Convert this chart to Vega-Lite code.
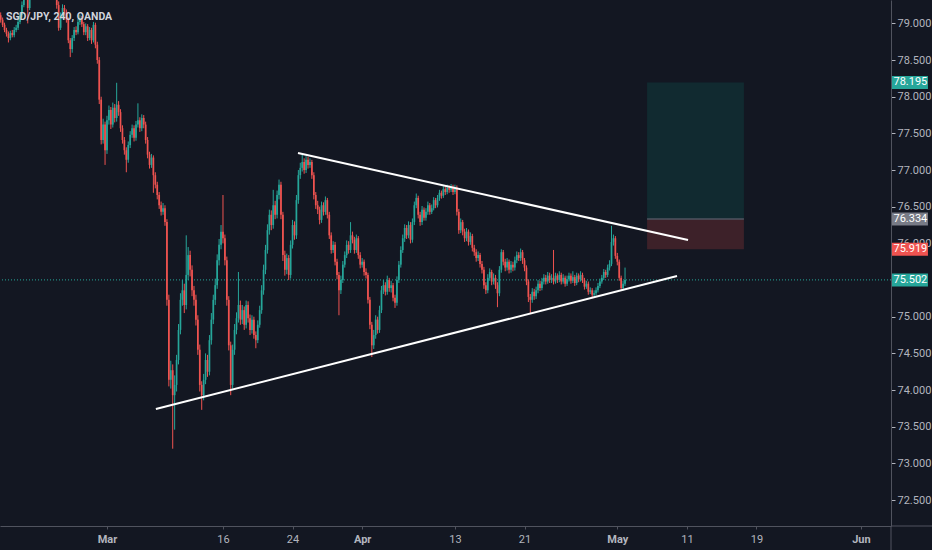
{
  "$schema": "https://vega.github.io/schema/vega-lite/v6.json",
  "width": 891,
  "height": 526,
  "autosize": {"type": "none"},
  "padding": {"left": 0, "top": 0, "right": 41, "bottom": 24},
  "background": "#131722",
  "config": {"view": {"stroke": null}, "font": "Roboto"},
  "title": {"text": "SGD/JPY, 240, OANDA", "anchor": "start", "frame": "group", "offset": -22, "dx": 6, "color": "#d1d4dc", "fontSize": 10.5, "fontWeight": "bold", "font": "Roboto"},
  "datasets": {
    "bars": [
      {"i":-55,"o":79.11,"h":79.15,"l":79.01,"c":79.05},
      {"i":-54,"o":79.05,"h":79.08,"l":78.95,"c":78.98},
      {"i":-53,"o":78.98,"h":79.01,"l":78.88,"c":78.91},
      {"i":-52,"o":78.91,"h":78.94,"l":78.82,"c":78.86},
      {"i":-51,"o":78.86,"h":78.89,"l":78.74,"c":78.80},
      {"i":-50,"o":78.80,"h":78.90,"l":78.77,"c":78.87},
      {"i":-49,"o":78.87,"h":78.91,"l":78.81,"c":78.84},
      {"i":-48,"o":78.84,"h":78.95,"l":78.81,"c":78.91},
      {"i":-47,"o":78.91,"h":78.98,"l":78.88,"c":78.94},
      {"i":-46,"o":78.94,"h":79.06,"l":78.91,"c":79.02},
      {"i":-45,"o":79.02,"h":79.15,"l":78.99,"c":79.11},
      {"i":-44,"o":79.11,"h":79.30,"l":79.08,"c":79.25},
      {"i":-43,"o":79.25,"h":79.52,"l":79.22,"c":79.46},
      {"i":-42,"o":79.46,"h":79.58,"l":79.42,"c":79.52},
      {"i":-41,"o":79.52,"h":79.55,"l":79.00,"c":79.21},
      {"i":-40,"o":79.21,"h":79.53,"l":79.18,"c":79.48},
      {"i":-39,"o":79.48,"h":79.64,"l":79.45,"c":79.59},
      {"i":-38,"o":79.59,"h":79.71,"l":79.55,"c":79.66},
      {"i":-37,"o":79.66,"h":79.78,"l":79.62,"c":79.73},
      {"i":-36,"o":79.73,"h":79.76,"l":79.58,"c":79.62},
      {"i":-35,"o":79.62,"h":79.75,"l":79.58,"c":79.70},
      {"i":-34,"o":79.70,"h":79.85,"l":79.67,"c":79.80},
      {"i":-33,"o":79.80,"h":79.83,"l":79.69,"c":79.73},
      {"i":-32,"o":79.73,"h":79.76,"l":79.63,"c":79.67},
      {"i":-31,"o":79.67,"h":79.70,"l":79.55,"c":79.59},
      {"i":-30,"o":79.59,"h":79.63,"l":79.48,"c":79.52},
      {"i":-29,"o":79.52,"h":79.60,"l":79.45,"c":79.56},
      {"i":-28,"o":79.56,"h":79.59,"l":79.42,"c":79.46},
      {"i":-27,"o":79.46,"h":79.50,"l":79.35,"c":79.39},
      {"i":-26,"o":79.39,"h":79.42,"l":79.20,"c":79.25},
      {"i":-25,"o":79.25,"h":79.30,"l":78.90,"c":78.94},
      {"i":-24,"o":78.94,"h":79.15,"l":78.91,"c":79.11},
      {"i":-23,"o":79.11,"h":79.26,"l":79.08,"c":79.21},
      {"i":-22,"o":79.21,"h":79.25,"l":79.12,"c":79.16},
      {"i":-21,"o":79.16,"h":79.19,"l":79.01,"c":79.05},
      {"i":-20,"o":79.05,"h":79.08,"l":78.73,"c":78.77},
      {"i":-19,"o":78.77,"h":78.80,"l":78.54,"c":78.65},
      {"i":-18,"o":78.65,"h":78.84,"l":78.60,"c":78.80},
      {"i":-17,"o":78.80,"h":78.95,"l":78.76,"c":78.91},
      {"i":-16,"o":78.91,"h":78.96,"l":78.84,"c":78.88},
      {"i":-15,"o":78.88,"h":79.06,"l":78.85,"c":79.02},
      {"i":-14,"o":79.02,"h":79.12,"l":78.98,"c":79.07},
      {"i":-13,"o":79.07,"h":79.10,"l":78.95,"c":78.99},
      {"i":-12,"o":78.99,"h":79.02,"l":78.84,"c":78.88},
      {"i":-11,"o":78.88,"h":79.00,"l":78.84,"c":78.96},
      {"i":-10,"o":78.96,"h":78.99,"l":78.76,"c":78.80},
      {"i":-9,"o":78.80,"h":78.95,"l":78.77,"c":78.91},
      {"i":-8,"o":78.91,"h":78.94,"l":78.72,"c":78.77},
      {"i":-7,"o":78.77,"h":79.02,"l":78.74,"c":78.98},
      {"i":-6,"o":78.98,"h":79.01,"l":78.66,"c":78.71},
      {"i":-5,"o":78.71,"h":78.75,"l":78.45,"c":78.50},
      {"i":-4,"o":78.50,"h":78.54,"l":77.90,"c":77.96},
      {"i":-3,"o":77.96,"h":78.00,"l":77.35,"c":77.41},
      {"i":-2,"o":77.41,"h":77.70,"l":77.36,"c":77.62},
      {"i":-1,"o":77.62,"h":77.66,"l":77.07,"c":77.27},
      {"i":0,"o":77.27,"h":77.74,"l":77.22,"c":77.68},
      {"i":1,"o":77.68,"h":77.88,"l":77.62,"c":77.82},
      {"i":2,"o":77.82,"h":77.86,"l":77.56,"c":77.62},
      {"i":3,"o":77.62,"h":77.92,"l":77.58,"c":77.85},
      {"i":4,"o":77.85,"h":77.90,"l":77.65,"c":77.71},
      {"i":5,"o":77.71,"h":78.19,"l":77.66,"c":77.89},
      {"i":6,"o":77.89,"h":77.94,"l":77.74,"c":77.79},
      {"i":7,"o":77.79,"h":77.83,"l":77.52,"c":77.57},
      {"i":8,"o":77.57,"h":77.61,"l":77.36,"c":77.41},
      {"i":9,"o":77.41,"h":77.45,"l":77.21,"c":77.27},
      {"i":10,"o":77.27,"h":77.31,"l":76.97,"c":77.14},
      {"i":11,"o":77.14,"h":77.39,"l":77.10,"c":77.34},
      {"i":12,"o":77.34,"h":77.53,"l":77.30,"c":77.48},
      {"i":13,"o":77.48,"h":77.62,"l":77.44,"c":77.57},
      {"i":14,"o":77.57,"h":77.61,"l":77.39,"c":77.44},
      {"i":15,"o":77.44,"h":77.67,"l":77.40,"c":77.62},
      {"i":16,"o":77.62,"h":77.91,"l":77.58,"c":77.68},
      {"i":17,"o":77.68,"h":77.72,"l":77.52,"c":77.57},
      {"i":18,"o":77.57,"h":77.76,"l":77.53,"c":77.71},
      {"i":19,"o":77.71,"h":77.75,"l":77.57,"c":77.62},
      {"i":20,"o":77.62,"h":77.66,"l":77.36,"c":77.41},
      {"i":21,"o":77.41,"h":77.45,"l":77.16,"c":77.21},
      {"i":22,"o":77.21,"h":77.25,"l":77.02,"c":77.07},
      {"i":23,"o":77.07,"h":77.22,"l":77.03,"c":77.17},
      {"i":24,"o":77.17,"h":77.20,"l":76.69,"c":76.93},
      {"i":25,"o":76.93,"h":76.97,"l":76.75,"c":76.80},
      {"i":26,"o":76.80,"h":76.84,"l":76.60,"c":76.66},
      {"i":27,"o":76.66,"h":76.70,"l":76.47,"c":76.52},
      {"i":28,"o":76.52,"h":76.57,"l":76.38,"c":76.43},
      {"i":29,"o":76.43,"h":76.55,"l":76.39,"c":76.48},
      {"i":30,"o":76.48,"h":76.52,"l":76.24,"c":76.29},
      {"i":31,"o":76.29,"h":76.33,"l":75.15,"c":75.23},
      {"i":32,"o":75.23,"h":75.30,"l":74.05,"c":74.14},
      {"i":33,"o":74.14,"h":74.40,"l":74.02,"c":74.27},
      {"i":34,"o":74.27,"h":74.35,"l":73.20,"c":73.93},
      {"i":35,"o":73.93,"h":74.20,"l":73.46,"c":74.07},
      {"i":36,"o":74.07,"h":74.48,"l":73.98,"c":74.41},
      {"i":37,"o":74.41,"h":74.90,"l":74.35,"c":74.82},
      {"i":38,"o":74.82,"h":75.32,"l":74.76,"c":75.23},
      {"i":39,"o":75.23,"h":75.50,"l":75.15,"c":75.36},
      {"i":40,"o":75.36,"h":75.45,"l":75.05,"c":75.16},
      {"i":41,"o":75.16,"h":76.11,"l":75.10,"c":75.57},
      {"i":42,"o":75.57,"h":75.95,"l":75.50,"c":75.84},
      {"i":43,"o":75.84,"h":75.90,"l":75.55,"c":75.64},
      {"i":44,"o":75.64,"h":75.70,"l":75.28,"c":75.36},
      {"i":45,"o":75.36,"h":75.42,"l":75.15,"c":75.23},
      {"i":46,"o":75.23,"h":75.30,"l":74.88,"c":74.96},
      {"i":47,"o":74.96,"h":75.02,"l":74.48,"c":74.55},
      {"i":48,"o":74.55,"h":74.62,"l":73.98,"c":74.07},
      {"i":49,"o":74.07,"h":74.12,"l":73.73,"c":73.93},
      {"i":50,"o":73.93,"h":74.22,"l":73.86,"c":74.14},
      {"i":51,"o":74.14,"h":74.50,"l":74.08,"c":74.41},
      {"i":52,"o":74.41,"h":74.48,"l":74.18,"c":74.25},
      {"i":53,"o":74.25,"h":74.75,"l":74.20,"c":74.68},
      {"i":54,"o":74.68,"h":75.05,"l":74.62,"c":74.96},
      {"i":55,"o":74.96,"h":75.30,"l":74.90,"c":75.23},
      {"i":56,"o":75.23,"h":75.52,"l":75.16,"c":75.43},
      {"i":57,"o":75.43,"h":75.85,"l":75.38,"c":75.77},
      {"i":58,"o":75.77,"h":76.06,"l":75.70,"c":75.98},
      {"i":59,"o":75.98,"h":76.25,"l":75.92,"c":76.16},
      {"i":60,"o":76.16,"h":76.66,"l":76.00,"c":76.07},
      {"i":61,"o":76.07,"h":76.12,"l":75.70,"c":75.77},
      {"i":62,"o":75.77,"h":75.82,"l":75.15,"c":75.23},
      {"i":63,"o":75.23,"h":75.28,"l":74.54,"c":74.61},
      {"i":64,"o":74.61,"h":74.66,"l":73.93,"c":74.07},
      {"i":65,"o":74.07,"h":74.62,"l":74.02,"c":74.55},
      {"i":66,"o":74.55,"h":74.90,"l":74.48,"c":74.82},
      {"i":67,"o":74.82,"h":75.06,"l":74.76,"c":74.98},
      {"i":68,"o":74.98,"h":75.61,"l":74.92,"c":75.16},
      {"i":69,"o":75.16,"h":75.22,"l":74.89,"c":74.96},
      {"i":70,"o":74.96,"h":75.16,"l":74.90,"c":75.09},
      {"i":71,"o":75.09,"h":75.14,"l":74.82,"c":74.89},
      {"i":72,"o":74.89,"h":75.22,"l":74.84,"c":75.16},
      {"i":73,"o":75.16,"h":75.21,"l":74.92,"c":74.98},
      {"i":74,"o":74.98,"h":75.03,"l":74.75,"c":74.82},
      {"i":75,"o":74.82,"h":75.02,"l":74.77,"c":74.96},
      {"i":76,"o":74.96,"h":75.00,"l":74.70,"c":74.75},
      {"i":77,"o":74.75,"h":74.80,"l":74.57,"c":74.68},
      {"i":78,"o":74.68,"h":74.95,"l":74.64,"c":74.89},
      {"i":79,"o":74.89,"h":75.15,"l":74.85,"c":75.09},
      {"i":80,"o":75.09,"h":75.43,"l":75.04,"c":75.36},
      {"i":81,"o":75.36,"h":75.71,"l":75.30,"c":75.64},
      {"i":82,"o":75.64,"h":75.98,"l":75.58,"c":75.91},
      {"i":83,"o":75.91,"h":76.26,"l":75.86,"c":76.18},
      {"i":84,"o":76.18,"h":76.46,"l":76.12,"c":76.39},
      {"i":85,"o":76.39,"h":76.45,"l":76.18,"c":76.25},
      {"i":86,"o":76.25,"h":76.73,"l":76.20,"c":76.52},
      {"i":87,"o":76.52,"h":76.58,"l":76.33,"c":76.39},
      {"i":88,"o":76.39,"h":76.72,"l":76.34,"c":76.66},
      {"i":89,"o":76.66,"h":76.87,"l":76.60,"c":76.80},
      {"i":90,"o":76.80,"h":76.84,"l":76.33,"c":76.39},
      {"i":91,"o":76.39,"h":76.43,"l":75.76,"c":75.84},
      {"i":92,"o":75.84,"h":75.90,"l":75.56,"c":75.64},
      {"i":93,"o":75.64,"h":75.86,"l":75.58,"c":75.80},
      {"i":94,"o":75.80,"h":75.84,"l":75.50,"c":75.57},
      {"i":95,"o":75.57,"h":76.04,"l":75.52,"c":75.98},
      {"i":96,"o":75.98,"h":76.32,"l":75.93,"c":76.25},
      {"i":97,"o":76.25,"h":76.30,"l":76.05,"c":76.11},
      {"i":98,"o":76.11,"h":76.66,"l":76.06,"c":76.59},
      {"i":99,"o":76.59,"h":77.00,"l":76.54,"c":76.93},
      {"i":100,"o":76.93,"h":77.10,"l":76.88,"c":77.03},
      {"i":101,"o":77.03,"h":77.21,"l":76.98,"c":77.11},
      {"i":102,"o":77.11,"h":77.16,"l":76.95,"c":77.00},
      {"i":103,"o":77.00,"h":77.19,"l":76.96,"c":77.14},
      {"i":104,"o":77.14,"h":77.18,"l":77.02,"c":77.07},
      {"i":105,"o":77.07,"h":77.16,"l":77.03,"c":77.11},
      {"i":106,"o":77.11,"h":77.14,"l":76.88,"c":76.93},
      {"i":107,"o":76.93,"h":76.97,"l":76.60,"c":76.66},
      {"i":108,"o":76.66,"h":76.70,"l":76.47,"c":76.52},
      {"i":109,"o":76.52,"h":76.58,"l":76.40,"c":76.46},
      {"i":110,"o":76.46,"h":76.50,"l":76.26,"c":76.32},
      {"i":111,"o":76.32,"h":76.57,"l":76.28,"c":76.52},
      {"i":112,"o":76.52,"h":76.56,"l":76.38,"c":76.43},
      {"i":113,"o":76.43,"h":76.64,"l":76.39,"c":76.59},
      {"i":114,"o":76.59,"h":76.62,"l":76.34,"c":76.39},
      {"i":115,"o":76.39,"h":76.43,"l":76.06,"c":76.11},
      {"i":116,"o":76.11,"h":76.15,"l":75.86,"c":75.91},
      {"i":117,"o":75.91,"h":76.03,"l":75.87,"c":75.98},
      {"i":118,"o":75.98,"h":76.02,"l":75.70,"c":75.75},
      {"i":119,"o":75.75,"h":75.79,"l":75.51,"c":75.57},
      {"i":120,"o":75.57,"h":75.61,"l":75.02,"c":75.36},
      {"i":121,"o":75.36,"h":75.56,"l":75.31,"c":75.50},
      {"i":122,"o":75.50,"h":75.76,"l":75.46,"c":75.71},
      {"i":123,"o":75.71,"h":75.89,"l":75.67,"c":75.84},
      {"i":124,"o":75.84,"h":76.04,"l":75.80,"c":75.98},
      {"i":125,"o":75.98,"h":76.03,"l":75.86,"c":75.91},
      {"i":126,"o":75.91,"h":76.29,"l":75.87,"c":76.11},
      {"i":127,"o":76.11,"h":76.16,"l":76.00,"c":76.05},
      {"i":128,"o":76.05,"h":76.09,"l":75.86,"c":75.91},
      {"i":129,"o":75.91,"h":76.12,"l":75.87,"c":76.07},
      {"i":130,"o":76.07,"h":76.10,"l":75.79,"c":75.84},
      {"i":131,"o":75.84,"h":75.88,"l":75.66,"c":75.71},
      {"i":132,"o":75.71,"h":75.80,"l":75.67,"c":75.75},
      {"i":133,"o":75.75,"h":75.78,"l":75.56,"c":75.61},
      {"i":134,"o":75.61,"h":75.66,"l":75.52,"c":75.57},
      {"i":135,"o":75.57,"h":75.60,"l":75.18,"c":75.23},
      {"i":136,"o":75.23,"h":75.27,"l":74.83,"c":74.89},
      {"i":137,"o":74.89,"h":74.93,"l":74.45,"c":74.61},
      {"i":138,"o":74.61,"h":74.82,"l":74.56,"c":74.75},
      {"i":139,"o":74.75,"h":75.02,"l":74.70,"c":74.96},
      {"i":140,"o":74.96,"h":75.00,"l":74.77,"c":74.82},
      {"i":141,"o":74.82,"h":75.15,"l":74.78,"c":75.09},
      {"i":142,"o":75.09,"h":75.42,"l":75.05,"c":75.36},
      {"i":143,"o":75.36,"h":75.50,"l":75.31,"c":75.43},
      {"i":144,"o":75.43,"h":75.47,"l":75.29,"c":75.34},
      {"i":145,"o":75.34,"h":75.56,"l":75.30,"c":75.50},
      {"i":146,"o":75.50,"h":75.53,"l":75.34,"c":75.39},
      {"i":147,"o":75.39,"h":75.49,"l":75.33,"c":75.43},
      {"i":148,"o":75.43,"h":75.46,"l":75.21,"c":75.26},
      {"i":149,"o":75.26,"h":75.30,"l":75.12,"c":75.19},
      {"i":150,"o":75.19,"h":75.55,"l":75.15,"c":75.50},
      {"i":151,"o":75.50,"h":75.76,"l":75.46,"c":75.71},
      {"i":152,"o":75.71,"h":75.96,"l":75.67,"c":75.91},
      {"i":153,"o":75.91,"h":76.12,"l":75.87,"c":76.07},
      {"i":154,"o":76.07,"h":76.26,"l":76.02,"c":76.21},
      {"i":155,"o":76.21,"h":76.25,"l":76.06,"c":76.11},
      {"i":156,"o":76.11,"h":76.30,"l":76.07,"c":76.25},
      {"i":157,"o":76.25,"h":76.29,"l":76.00,"c":76.05},
      {"i":158,"o":76.05,"h":76.34,"l":76.01,"c":76.29},
      {"i":159,"o":76.29,"h":76.57,"l":76.25,"c":76.52},
      {"i":160,"o":76.52,"h":76.68,"l":76.48,"c":76.62},
      {"i":161,"o":76.62,"h":76.65,"l":76.34,"c":76.39},
      {"i":162,"o":76.39,"h":76.43,"l":76.24,"c":76.29},
      {"i":163,"o":76.29,"h":76.51,"l":76.25,"c":76.46},
      {"i":164,"o":76.46,"h":76.49,"l":76.31,"c":76.35},
      {"i":165,"o":76.35,"h":76.48,"l":76.31,"c":76.43},
      {"i":166,"o":76.43,"h":76.57,"l":76.39,"c":76.52},
      {"i":167,"o":76.52,"h":76.55,"l":76.39,"c":76.43},
      {"i":168,"o":76.43,"h":76.53,"l":76.40,"c":76.48},
      {"i":169,"o":76.48,"h":76.63,"l":76.45,"c":76.59},
      {"i":170,"o":76.59,"h":76.62,"l":76.48,"c":76.52},
      {"i":171,"o":76.52,"h":76.66,"l":76.49,"c":76.62},
      {"i":172,"o":76.62,"h":76.73,"l":76.58,"c":76.69},
      {"i":173,"o":76.69,"h":76.72,"l":76.61,"c":76.65},
      {"i":174,"o":76.65,"h":76.78,"l":76.62,"c":76.74},
      {"i":175,"o":76.74,"h":76.78,"l":76.66,"c":76.70},
      {"i":176,"o":76.70,"h":76.80,"l":76.67,"c":76.76},
      {"i":177,"o":76.76,"h":76.79,"l":76.69,"c":76.73},
      {"i":178,"o":76.73,"h":76.81,"l":76.70,"c":76.77},
      {"i":179,"o":76.77,"h":76.80,"l":76.66,"c":76.70},
      {"i":180,"o":76.70,"h":76.80,"l":76.67,"c":76.76},
      {"i":181,"o":76.76,"h":76.79,"l":76.38,"c":76.43},
      {"i":182,"o":76.43,"h":76.47,"l":76.13,"c":76.18},
      {"i":183,"o":76.18,"h":76.34,"l":76.14,"c":76.29},
      {"i":184,"o":76.29,"h":76.32,"l":76.11,"c":76.16},
      {"i":185,"o":76.16,"h":76.20,"l":76.02,"c":76.07},
      {"i":186,"o":76.07,"h":76.21,"l":76.03,"c":76.16},
      {"i":187,"o":76.16,"h":76.19,"l":75.97,"c":76.02},
      {"i":188,"o":76.02,"h":76.15,"l":75.98,"c":76.10},
      {"i":189,"o":76.10,"h":76.13,"l":75.89,"c":75.94},
      {"i":190,"o":75.94,"h":75.98,"l":75.83,"c":75.88},
      {"i":191,"o":75.88,"h":75.92,"l":75.75,"c":75.80},
      {"i":192,"o":75.80,"h":75.89,"l":75.76,"c":75.84},
      {"i":193,"o":75.84,"h":75.87,"l":75.67,"c":75.72},
      {"i":194,"o":75.72,"h":75.76,"l":75.59,"c":75.64},
      {"i":195,"o":75.64,"h":75.68,"l":75.38,"c":75.43},
      {"i":196,"o":75.43,"h":75.47,"l":75.31,"c":75.36},
      {"i":197,"o":75.36,"h":75.58,"l":75.32,"c":75.53},
      {"i":198,"o":75.53,"h":75.66,"l":75.49,"c":75.61},
      {"i":199,"o":75.61,"h":75.64,"l":75.43,"c":75.48},
      {"i":200,"o":75.48,"h":75.59,"l":75.44,"c":75.53},
      {"i":201,"o":75.53,"h":75.57,"l":75.38,"c":75.43},
      {"i":202,"o":75.43,"h":75.47,"l":75.13,"c":75.32},
      {"i":203,"o":75.32,"h":75.69,"l":75.28,"c":75.64},
      {"i":204,"o":75.64,"h":75.92,"l":75.60,"c":75.88},
      {"i":205,"o":75.88,"h":75.91,"l":75.70,"c":75.75},
      {"i":206,"o":75.75,"h":75.79,"l":75.62,"c":75.67},
      {"i":207,"o":75.67,"h":75.80,"l":75.63,"c":75.75},
      {"i":208,"o":75.75,"h":75.78,"l":75.59,"c":75.64},
      {"i":209,"o":75.64,"h":75.76,"l":75.60,"c":75.71},
      {"i":210,"o":75.71,"h":75.75,"l":75.62,"c":75.67},
      {"i":211,"o":75.67,"h":75.82,"l":75.63,"c":75.77},
      {"i":212,"o":75.77,"h":75.89,"l":75.73,"c":75.84},
      {"i":213,"o":75.84,"h":75.88,"l":75.76,"c":75.80},
      {"i":214,"o":75.80,"h":75.93,"l":75.76,"c":75.88},
      {"i":215,"o":75.88,"h":75.91,"l":75.72,"c":75.77},
      {"i":216,"o":75.77,"h":75.80,"l":75.62,"c":75.67},
      {"i":217,"o":75.67,"h":75.70,"l":75.43,"c":75.48},
      {"i":218,"o":75.48,"h":75.51,"l":75.20,"c":75.27},
      {"i":219,"o":75.27,"h":75.31,"l":75.05,"c":75.23},
      {"i":220,"o":75.23,"h":75.39,"l":75.19,"c":75.34},
      {"i":221,"o":75.34,"h":75.38,"l":75.23,"c":75.28},
      {"i":222,"o":75.28,"h":75.41,"l":75.24,"c":75.36},
      {"i":223,"o":75.36,"h":75.50,"l":75.32,"c":75.45},
      {"i":224,"o":75.45,"h":75.49,"l":75.35,"c":75.39},
      {"i":225,"o":75.39,"h":75.53,"l":75.36,"c":75.48},
      {"i":226,"o":75.48,"h":75.58,"l":75.44,"c":75.53},
      {"i":227,"o":75.53,"h":75.57,"l":75.44,"c":75.48},
      {"i":228,"o":75.48,"h":75.61,"l":75.45,"c":75.56},
      {"i":229,"o":75.56,"h":75.60,"l":75.46,"c":75.50},
      {"i":230,"o":75.50,"h":75.58,"l":75.46,"c":75.53},
      {"i":231,"o":75.53,"h":75.91,"l":75.44,"c":75.48},
      {"i":232,"o":75.48,"h":75.60,"l":75.45,"c":75.56},
      {"i":233,"o":75.56,"h":75.59,"l":75.46,"c":75.50},
      {"i":234,"o":75.50,"h":75.62,"l":75.47,"c":75.57},
      {"i":235,"o":75.57,"h":75.60,"l":75.44,"c":75.48},
      {"i":236,"o":75.48,"h":75.58,"l":75.45,"c":75.53},
      {"i":237,"o":75.53,"h":75.56,"l":75.41,"c":75.45},
      {"i":238,"o":75.45,"h":75.56,"l":75.42,"c":75.51},
      {"i":239,"o":75.51,"h":75.60,"l":75.48,"c":75.56},
      {"i":240,"o":75.56,"h":75.59,"l":75.45,"c":75.49},
      {"i":241,"o":75.49,"h":75.62,"l":75.46,"c":75.54},
      {"i":242,"o":75.54,"h":75.57,"l":75.42,"c":75.46},
      {"i":243,"o":75.46,"h":75.60,"l":75.43,"c":75.56},
      {"i":244,"o":75.56,"h":75.59,"l":75.47,"c":75.51},
      {"i":245,"o":75.51,"h":75.62,"l":75.48,"c":75.57},
      {"i":246,"o":75.57,"h":75.60,"l":75.46,"c":75.50},
      {"i":247,"o":75.50,"h":75.53,"l":75.37,"c":75.41},
      {"i":248,"o":75.41,"h":75.49,"l":75.38,"c":75.45},
      {"i":249,"o":75.45,"h":75.48,"l":75.30,"c":75.34},
      {"i":250,"o":75.34,"h":75.40,"l":75.31,"c":75.36},
      {"i":251,"o":75.36,"h":75.39,"l":75.26,"c":75.30},
      {"i":252,"o":75.30,"h":75.36,"l":75.27,"c":75.32},
      {"i":253,"o":75.32,"h":75.40,"l":75.29,"c":75.36},
      {"i":254,"o":75.36,"h":75.46,"l":75.33,"c":75.42},
      {"i":255,"o":75.42,"h":75.52,"l":75.39,"c":75.48},
      {"i":256,"o":75.48,"h":75.57,"l":75.45,"c":75.53},
      {"i":257,"o":75.53,"h":75.65,"l":75.50,"c":75.61},
      {"i":258,"o":75.61,"h":75.64,"l":75.53,"c":75.57},
      {"i":259,"o":75.57,"h":75.71,"l":75.54,"c":75.67},
      {"i":260,"o":75.67,"h":75.77,"l":75.63,"c":75.72},
      {"i":261,"o":75.72,"h":76.24,"l":75.69,"c":76.02},
      {"i":262,"o":76.02,"h":76.12,"l":75.97,"c":76.07},
      {"i":263,"o":76.07,"h":76.10,"l":75.79,"c":75.83},
      {"i":264,"o":75.83,"h":75.87,"l":75.70,"c":75.75},
      {"i":265,"o":75.75,"h":75.78,"l":75.49,"c":75.53},
      {"i":266,"o":75.53,"h":75.56,"l":75.36,"c":75.39},
      {"i":267,"o":75.39,"h":75.49,"l":75.36,"c":75.45},
      {"i":268,"o":75.45,"h":75.67,"l":75.42,"c":75.50}
    ],
    "trend": [
      {"x1": 98.8, "y1": 77.232, "x2": 300.6, "y2": 76.046},
      {"x1": 25.3, "y1": 73.741, "x2": 294.9, "y2": 75.555}
    ],
    "position": [
      {"a": 279.4, "b": 329.5, "lo": 76.334, "hi": 78.195, "k": "target"},
      {"a": 279.4, "b": 329.5, "lo": 75.919, "hi": 76.334, "k": "stop"}
    ],
    "tags": [
      {"p": 78.195, "k": "target"},
      {"p": 76.334, "k": "entry"},
      {"p": 75.919, "k": "stop"},
      {"p": 75.502, "k": "last"}
    ]
  },
  "layer": [
    {
      "data": {"name": "position"},
      "mark": {"type": "rect"},
      "encoding": {
        "x": {"field": "a", "type": "quantitative", "title": null, "scale": {"domain": [-55.35, 405.59], "nice": false, "zero": false, "padding": 0},
          "axis": {"values": [0, 60, 96, 132, 180, 216, 264, 300, 336, 390], "title": null, "grid": false,
            "labelExpr": "datum.value==0?'Mar':datum.value==60?'16':datum.value==96?'24':datum.value==132?'Apr':datum.value==180?'13':datum.value==216?'21':datum.value==264?'May':datum.value==300?'11':datum.value==336?'19':'Jun'",
            "labelFontWeight": {"condition": {"test": "datum.value==0||datum.value==132||datum.value==264||datum.value==390", "value": "bold"}, "value": "normal"},
            "labelOverlap": false, "labelFlush": false, "domainColor": "#50535e", "tickColor": "#50535e", "tickSize": 3,
            "labelColor": "#b2b5be", "labelFontSize": 11, "labelPadding": 4, "labelFont": "Roboto"}},
        "x2": {"field": "b"},
        "y": {"field": "lo", "type": "quantitative", "title": null, "scale": {"domain": [72.146, 79.319], "nice": false, "zero": false, "padding": 0},
          "axis": {"orient": "right", "values": [72.5, 73, 73.5, 74, 74.5, 75, 76, 76.5, 77, 77.5, 78, 78.5, 79], "format": ".3f", "title": null, "grid": false,
            "domainColor": "#50535e", "tickColor": "#b2b5be", "tickSize": 4, "labelColor": "#b2b5be", "labelFontSize": 11, "labelPadding": 2, "labelFont": "Roboto", "labelOverlap": false, "labelFlush": false}},
        "y2": {"field": "hi"},
        "fill": {"field": "k", "type": "nominal", "scale": {"domain": ["target", "stop"], "range": ["#112a30", "#3d2129"]}, "legend": null}
      }
    },
    {
      "data": {"values": [{"a": 279.4, "b": 329.5, "p": 76.334}]},
      "mark": {"type": "rule", "color": "#4f5560", "strokeWidth": 1.5},
      "encoding": {
        "x": {"field": "a", "type": "quantitative", "title": null},
        "x2": {"field": "b"},
        "y": {"field": "p", "type": "quantitative", "title": null}
      }
    },
    {
      "data": {"values": [{"p": 75.502}]},
      "mark": {"type": "rule", "color": "#26a69a", "strokeWidth": 1, "strokeDash": [1, 2]},
      "encoding": {
        "y": {"field": "p", "type": "quantitative", "title": null}
      }
    },
    {
      "data": {"values": [{}]},
      "mark": {"type": "rule", "color": "#50535e", "strokeWidth": 1},
      "encoding": {
        "x": {"datum": 405.59, "type": "quantitative"},
        "x2": {"datum": 428},
        "y": {"datum": 72.146, "type": "quantitative"}
      }
    },
    {
      "data": {"values": [{}]},
      "mark": {"type": "rule", "color": "#50535e", "strokeWidth": 1},
      "encoding": {
        "x": {"datum": 405.59, "type": "quantitative"},
        "y": {"datum": 72.146, "type": "quantitative"},
        "y2": {"datum": 71.80}
      }
    },
    {
      "data": {"name": "bars"},
      "mark": {"type": "rule", "strokeWidth": 1, "clip": true},
      "encoding": {
        "x": {"field": "i", "type": "quantitative", "title": null},
        "y": {"field": "l", "type": "quantitative", "title": null},
        "y2": {"field": "h"},
        "color": {"condition": {"test": "datum.c >= datum.o", "value": "#26a69a"}, "value": "#ef5350"}
      }
    },
    {
      "data": {"name": "bars"},
      "mark": {"type": "bar", "size": 1.7, "clip": true},
      "encoding": {
        "x": {"field": "i", "type": "quantitative", "title": null},
        "y": {"field": "o", "type": "quantitative", "title": null},
        "y2": {"field": "c"},
        "color": {"condition": {"test": "datum.c >= datum.o", "value": "#26a69a"}, "value": "#ef5350"}
      }
    },
    {
      "data": {"name": "trend"},
      "mark": {"type": "rule", "color": "#ffffff", "strokeWidth": 2},
      "encoding": {
        "x": {"field": "x1", "type": "quantitative", "title": null},
        "x2": {"field": "x2"},
        "y": {"field": "y1", "type": "quantitative", "title": null},
        "y2": {"field": "y2"}
      }
    },
    {
      "data": {"name": "tags"},
      "mark": {"type": "tick", "orient": "horizontal", "thickness": 13, "size": 36, "opacity": 1},
      "encoding": {
        "x": {"datum": 415.4, "type": "quantitative"},
        "y": {"field": "p", "type": "quantitative", "title": null},
        "color": {"field": "k", "type": "nominal", "scale": {"domain": ["target", "entry", "stop", "last"], "range": ["#26a69a", "#787b86", "#ef5350", "#26a69a"]}, "legend": null}
      }
    },
    {
      "data": {"name": "tags"},
      "mark": {"type": "text", "color": "#ffffff", "fontSize": 11, "font": "Roboto", "align": "center", "baseline": "middle"},
      "encoding": {
        "x": {"datum": 415.6, "type": "quantitative"},
        "y": {"field": "p", "type": "quantitative", "title": null},
        "text": {"field": "p", "type": "quantitative", "format": ".3f"}
      }
    }
  ]
}
